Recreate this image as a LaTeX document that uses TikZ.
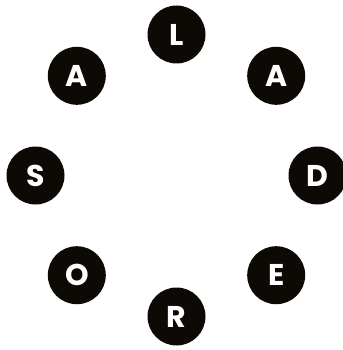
\documentclass[tikz,border=0pt]{standalone}
\usepackage{fontspec}
\setmainfont{Poppins}[UprightFont=* Bold]
\begin{document}
\begin{tikzpicture}[x=1pt,y=-1pt,
  letter/.style={circle,fill=black!93!brown,text=white,minimum size=58pt,inner sep=0pt,
    font=\fontsize{30}{30}\selectfont}]
\useasboundingbox (0,0) rectangle (342,350);
\node[letter] (l)  at (176.5,34.5)  {L};
\node[letter] (a1) at (276.2,75.8)  {A};
\node[letter] (d)  at (317.5,175.5) {D};
\node[letter] (e)  at (276.2,275.2) {E};
\node[letter] (r)  at (176.5,316.5) {R};
\node[letter] (o)  at (76.8,275.2)  {O};
\node[letter] (s)  at (35.5,175.5)  {S};
\node[letter] (a2) at (76.8,75.8)   {A};
\end{tikzpicture}
\end{document}
